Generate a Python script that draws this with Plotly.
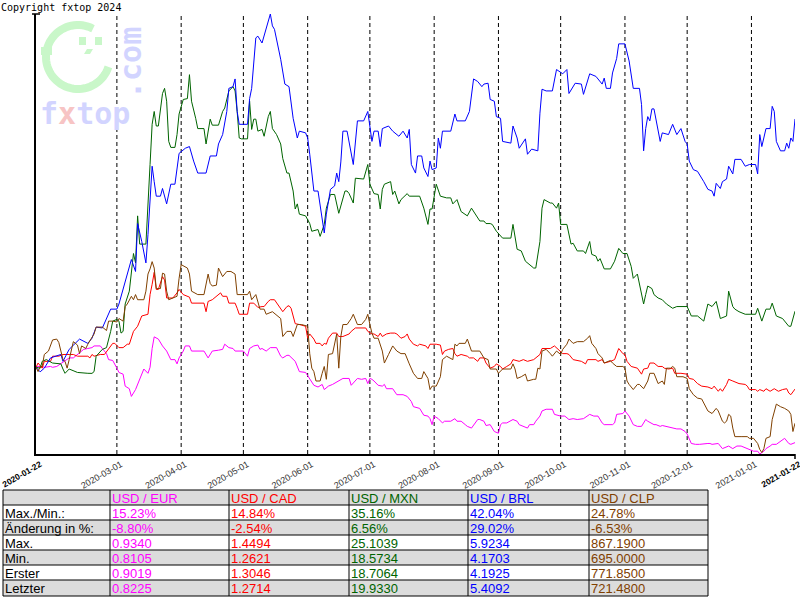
import datetime as dt
import math
import plotly.graph_objects as go

# ---------------- data ----------------
START = dt.date(2020, 1, 22)
END = dt.date(2021, 1, 22)
MONTH_STARTS = ["2020-03-01", "2020-04-01", "2020-05-01", "2020-06-01", "2020-07-01",
                "2020-08-01", "2020-09-01", "2020-10-01", "2020-11-01", "2020-12-01",
                "2021-01-01"]

PAIRS = ["USD / EUR", "USD / CAD", "USD / MXN", "USD / BRL", "USD / CLP"]
COLORS = ["#ff00ff", "#ff0000", "#006400", "#0000ff", "#804000"]

# (days since 2020-01-22, index with first value = 100)
EUR = [(0,100.0),(1,100.1),(3,100.1),(4,100.0),(7,100.1),(8,100.0),(10,100.1),(12,100.4),(14,100.7),(16,101.1),(18,101.1),(20,101.5),(23,102.1),(25,102.2),(27,102.3),(28,102.5),(31,102.5),(32,102.2),(34,101.6),(35,100.9),(37,100.8),(39,99.9),(40,99.4),(42,99.2),(43,97.8),(45,97.5),(46,96.6),(48,97.4),(49,98.0),(51,99.3),(52,99.8),(54,99.3),(55,100.0),(56,102.2),(57,103.56),(59,103.3),(61,102.5),(63,101.9),(65,100.9),(67,100.9),(68,100.4),(69,101.1),(71,101.9),(72,102.5),(74,102.5),(75,101.9),(81,101.9),(83,101.1),(84,101.5),(85,101.9),(88,102.0),(90,102.1),(91,102.7),(93,102.3),(95,102.2),(96,101.9),(100,101.9),(102,101.3),(103,102.2),(105,102.5),(107,102.6),(108,102.1),(109,102.2),(111,101.9),(113,102.3),(116,102.3),(118,101.3),(119,101.1),(121,101.4),(122,101.4),(125,100.7),(127,99.5),(130,99.4),(132,98.7),(134,97.9),(136,97.7),(138,98.0),(139,97.4),(141,97.8),(143,98.0),(146,98.4),(148,98.7),(151,98.7),(152,97.9),(155,98.7),(157,98.6),(159,98.7),(160,98.1),(161,98.7),(162,98.6),(163,98.4),(165,97.9),(167,97.8),(168,98.0),(169,97.5),(172,97.5),(174,96.8),(177,96.8),(179,96.6),(181,96.0),(182,95.4),(184,95.3),(185,95.2),(187,94.4),(189,94.3),(190,94.0),(191,93.3),(192,94.3),(194,94.0),(196,93.5),(197,93.7),(200,93.7),(201,93.9),(202,94.0),(203,93.7),(205,93.7),(207,93.3),(208,93.1),(210,92.9),(213,93.9),(214,93.9),(216,93.7),(217,93.2),(219,93.3),(221,92.5),(223,92.3),(224,93.3),(225,93.5),(227,93.5),(229,93.8),(230,93.9),(232,93.7),(233,93.3),(237,92.9),(238,93.3),(240,93.3),(241,93.7),(243,94.3),(244,94.9),(246,95.1),(249,95.1),(250,94.5),(253,94.3),(255,94.3),(257,93.9),(259,94.0),(261,93.9),(264,94.0),(266,94.3),(267,94.5),(269,94.3),(271,94.3),(273,93.5),(274,93.3),(278,93.3),(279,93.5),(280,94.5),(283,94.6),(284,94.9),(285,94.6),(286,94.3),(288,93.3),(290,93.1),(292,93.1),(294,93.9),(295,93.7),(298,93.3),(299,93.3),(301,93.1),(302,93.2),(306,93.0),(308,92.9),(309,92.8),(311,92.8),(313,92.5),(314,92.2),(316,91.1),(318,91.0),(320,91.0),(324,91.1),(325,91.1),(326,91.0),(329,91.1),(331,90.5),(332,90.6),(334,90.8),(336,90.5),(338,90.8),(340,90.8),(343,90.5),(344,90.4),(346,90.2),(348,90.2),(349,89.87),(351,90.2),(352,90.5),(354,90.8),(355,91.0),(357,91.0),(359,91.3),(360,91.5),(361,91.7),(363,91.1),(364,91.0),(366,91.2)]

CAD = [(0,100.0),(1,100.5),(3,99.9),(4,100.7),(7,100.7),(8,101.3),(11,101.3),(13,101.5),(16,101.5),(18,101.5),(20,101.3),(25,101.3),(26,101.1),(27,101.5),(28,101.3),(31,101.5),(33,101.5),(35,102.2),(37,102.8),(38,102.8),(40,102.3),(42,102.3),(44,102.7),(45,102.7),(47,104.2),(49,104.8),(51,106.0),(54,106.2),(55,108.5),(56,109.7),(57,111.1),(58,109.1),(59,109.1),(61,110.6),(62,110.2),(63,108.1),(66,108.1),(68,108.7),(69,109.1),(71,108.5),(74,108.2),(75,107.5),(79,107.5),(81,107.5),(82,106.5),(83,107.7),(85,107.9),(89,108.7),(90,108.3),(92,108.3),(93,107.5),(96,107.5),(97,106.9),(98,106.2),(102,106.2),(103,107.5),(105,107.5),(107,107.0),(109,107.1),(110,107.1),(112,107.7),(113,107.9),(115,107.9),(118,106.8),(119,106.5),(121,107.1),(122,107.2),(123,106.9),(125,105.1),(127,105.0),(130,104.8),(131,103.4),(132,103.9),(134,103.3),(135,102.8),(137,102.8),(138,102.5),(139,102.8),(140,102.7),(141,103.4),(143,104.0),(145,104.0),(146,103.6),(148,103.6),(151,103.9),(152,104.2),(154,104.6),(159,104.6),(160,104.2),(162,103.9),(163,103.9),(165,103.6),(166,104.0),(167,103.6),(169,103.9),(171,104.0),(173,104.0),(174,103.9),(176,103.4),(178,103.6),(179,103.9),(180,103.3),(182,102.7),(184,102.5),(185,102.7),(188,102.5),(189,102.2),(190,102.7),(193,102.7),(195,102.6),(196,101.5),(197,101.9),(199,102.1),(201,102.2),(202,101.6),(203,101.3),(205,101.5),(208,101.3),(209,101.1),(211,101.1),(213,100.7),(214,101.1),(216,101.1),(217,100.5),(219,99.9),(221,100.1),(222,100.4),(224,100.1),(225,99.8),(227,100.1),(229,100.4),(230,100.9),(233,100.7),(235,100.9),(237,100.7),(240,100.9),(241,101.1),(243,101.5),(244,102.2),(248,102.2),(250,102.5),(252,102.1),(254,101.6),(256,101.6),(257,101.5),(259,100.9),(261,100.8),(263,100.7),(265,100.4),(266,100.9),(270,100.9),(271,100.7),(273,100.9),(274,100.5),(277,100.7),(279,100.9),(281,102.2),(283,101.6),(284,101.5),(285,100.7),(287,100.1),(290,99.9),(292,99.2),(293,99.8),(295,99.9),(296,100.5),(298,100.5),(300,100.1),(302,100.1),(303,99.9),(305,99.8),(307,99.9),(308,99.3),(311,99.3),(314,99.2),(315,98.7),(317,98.6),(319,98.1),(321,97.8),(324,97.7),(326,97.5),(327,97.8),(328,97.5),(329,97.2),(330,97.5),(331,97.2),(333,98.0),(334,98.6),(336,98.4),(339,98.1),(342,98.0),(343,97.8),(344,97.4),(347,97.4),(348,97.2),(349,97.4),(351,97.2),(352,97.5),(354,97.2),(355,97.4),(356,97.5),(358,97.2),(360,97.4),(362,97.5),(363,97.0),(364,96.8),(366,97.46)]

MXN = [(0,100.0),(2,99.9),(3,100.7),(5,100.9),(8,100.5),(12,100.4),(13,99.8),(14,99.3),(16,99.8),(20,99.4),(25,99.3),(27,99.29),(28,99.5),(29,101.3),(32,102.1),(34,102.3),(36,104.2),(37,105.4),(39,105.6),(40,105.4),(41,104.0),(42,104.2),(43,107.4),(45,108.9),(47,113.3),(48,112.2),(49,117.7),(50,114.4),(53,114.4),(54,119.8),(55,123.7),(56,128.4),(57,129.9),(58,128.2),(59,128.2),(61,132.0),(62,132.6),(63,131.1),(64,126.4),(65,125.7),(67,125.7),(68,127.2),(69,129.6),(71,131.3),(73,131.4),(74,134.2),(75,131.1),(77,129.1),(78,127.9),(81,127.9),(82,126.1),(84,129.0),(85,128.3),(88,128.3),(90,129.9),(91,130.3),(93,132.3),(95,132.8),(96,132.3),(97,129.9),(98,126.8),(99,126.7),(102,126.7),(103,131.1),(104,127.8),(105,129.0),(106,129.0),(107,127.6),(109,127.8),(110,127.0),(112,129.3),(113,129.9),(114,127.9),(116,127.2),(118,126.1),(119,124.4),(121,122.7),(122,122.7),(124,120.6),(125,118.5),(126,119.1),(127,117.9),(130,117.7),(132,116.8),(133,115.9),(136,116.1),(137,115.3),(139,116.7),(140,118.6),(142,120.2),(144,120.2),(146,118.0),(148,119.8),(149,120.6),(150,120.6),(151,120.3),(153,119.2),(154,122.1),(158,122.0),(160,123.7),(161,121.4),(163,120.3),(165,120.2),(166,118.5),(167,120.8),(168,121.4),(171,121.7),(172,120.2),(173,120.6),(175,119.1),(176,119.6),(179,120.3),(180,120.0),(185,120.0),(187,118.6),(189,116.7),(190,118.5),(191,118.5),(193,121.4),(195,120.0),(198,119.8),(200,119.8),(201,119.1),(203,119.6),(205,118.2),(208,117.7),(210,118.6),(212,117.9),(214,117.1),(216,117.1),(217,116.8),(219,116.8),(220,116.7),(222,115.9),(225,115.1),(229,115.1),(230,116.7),(232,113.8),(234,113.6),(236,112.4),(238,112.0),(240,111.6),(241,111.6),(243,114.7),(244,118.6),(245,119.6),(248,119.2),(249,119.2),(251,118.6),(252,119.2),(253,116.7),(256,116.7),(258,114.4),(259,114.5),(261,113.6),(264,113.6),(265,113.3),(267,114.7),(268,113.2),(270,113.0),(271,112.4),(272,112.7),(274,111.5),(277,111.5),(279,112.4),(281,113.9),(283,113.3),(285,113.3),(287,111.8),(288,110.4),(290,110.9),(292,108.5),(293,107.4),(294,108.5),(295,109.5),(297,109.2),(298,108.5),(300,108.1),(302,107.9),(304,107.4),(307,106.9),(309,107.1),(314,107.1),(316,106.0),(319,106.0),(322,105.4),(324,107.4),(326,107.1),(328,107.7),(330,105.7),(333,106.0),(334,108.9),(336,107.1),(337,106.8),(339,106.5),(342,106.2),(347,106.2),(348,106.9),(350,105.4),(352,106.8),(354,106.8),(355,107.5),(357,106.0),(360,105.7),(363,104.8),(364,104.8),(365,105.7),(366,106.56)]

BRL = [(0,100.0),(2,99.47),(4,99.9),(7,101.1),(12,101.5),(13,100.7),(16,102.1),(20,103.0),(21,103.3),(25,102.8),(27,103.4),(29,104.7),(32,104.6),(36,106.8),(39,106.8),(40,107.4),(44,110.9),(46,112.6),(48,111.2),(49,116.8),(51,114.7),(53,112.2),(54,115.5),(55,119.8),(56,123.5),(57,121.7),(58,120.0),(60,120.0),(61,120.9),(63,119.1),(65,121.4),(67,121.4),(68,123.3),(69,125.0),(72,125.6),(74,125.8),(76,124.1),(78,122.7),(82,122.7),(84,124.7),(87,124.7),(88,126.1),(90,127.2),(92,129.9),(93,132.6),(95,132.8),(96,133.7),(97,129.9),(98,128.4),(102,128.4),(103,131.4),(104,132.6),(106,138.5),(107,138.7),(109,137.9),(111,139.6),(113,141.29),(114,139.9),(115,139.5),(118,136.0),(120,133.1),(122,132.8),(124,129.1),(126,126.8),(127,127.6),(130,127.4),(131,126.8),(132,124.9),(134,120.6),(136,120.6),(138,117.1),(139,115.7),(140,117.9),(142,120.8),(144,121.2),(145,122.7),(146,121.7),(147,124.0),(148,127.6),(150,127.6),(153,123.7),(155,128.8),(158,128.8),(160,129.9),(162,126.4),(163,127.6),(165,127.6),(166,125.8),(167,127.9),(170,128.2),(172,127.6),(175,127.0),(177,127.6),(179,126.8),(180,127.8),(181,123.7),(183,122.7),(184,124.7),(186,124.7),(187,123.3),(189,122.3),(190,124.1),(191,123.1),(193,123.3),(194,126.8),(195,125.6),(196,127.6),(200,127.6),(202,129.6),(203,128.8),(207,128.8),(209,129.9),(211,133.7),(213,133.4),(215,132.8),(216,133.1),(218,133.2),(219,131.3),(221,131.1),(222,129.3),(224,129.1),(225,126.4),(229,126.2),(230,128.2),(232,126.8),(233,125.6),(236,126.7),(237,124.9),(239,125.5),(242,125.3),(243,129.7),(244,132.5),(246,132.3),(249,132.3),(251,134.8),(254,134.3),(256,134.8),(257,132.0),(260,133.2),(263,133.1),(264,131.9),(267,134.3),(270,134.0),(273,133.1),(274,133.8),(275,132.6),(277,132.6),(278,134.4),(280,136.1),(281,137.8),(284,137.8),(286,135.8),(288,132.6),(291,132.6),(292,130.7),(293,125.3),(294,127.9),(295,129.3),(296,128.8),(297,130.2),(298,130.2),(299,128.8),(301,126.4),(302,127.4),(305,127.2),(307,128.4),(309,127.2),(311,127.9),(313,126.4),(314,126.1),(315,124.1),(317,123.1),(319,122.9),(322,121.7),(324,120.8),(326,120.6),(327,120.0),(328,121.5),(330,120.9),(331,121.7),(333,122.0),(334,123.5),(336,122.6),(337,124.3),(340,124.3),(342,123.5),(344,123.7),(347,123.7),(348,122.6),(349,127.2),(350,125.8),(352,127.9),(354,127.9),(355,130.5),(356,129.9),(357,126.4),(359,125.3),(361,125.3),(362,126.2),(363,125.6),(364,126.8),(365,126.4),(366,129.02)]

CLP = [(0,100.0),(1,99.5),(2,100.1),(3,100.1),(4,101.5),(6,101.9),(8,103.2),(10,103.3),(11,102.9),(12,101.9),(13,100.9),(14,100.7),(15,99.9),(16,100.9),(18,103.0),(20,102.6),(21,101.6),(22,102.5),(24,102.2),(25,102.7),(27,103.4),(28,103.9),(29,104.7),(32,104.7),(34,104.3),(35,105.4),(37,105.4),(39,105.3),(40,105.7),(42,105.4),(43,107.1),(44,107.4),(46,108.3),(47,107.9),(48,108.5),(49,107.9),(52,107.9),(53,108.9),(54,110.9),(55,111.5),(56,112.35),(57,111.6),(58,109.2),(60,109.2),(61,111.0),(62,110.9),(63,108.9),(64,107.9),(66,108.1),(68,108.3),(69,110.4),(70,112.0),(73,111.6),(74,110.9),(75,108.9),(78,108.5),(81,108.5),(83,110.9),(84,109.8),(85,109.5),(87,109.6),(88,111.6),(90,110.6),(92,111.2),(94,111.2),(96,110.9),(97,108.5),(102,108.5),(103,108.9),(104,107.9),(106,108.5),(107,107.5),(108,106.8),(110,106.8),(111,106.2),(114,106.5),(116,106.1),(118,105.7),(119,103.6),(121,104.2),(123,104.2),(124,103.6),(126,105.0),(128,105.0),(131,104.8),(132,101.6),(133,99.9),(134,99.5),(135,98.4),(137,98.4),(138,99.3),(139,100.1),(140,98.6),(141,101.5),(143,101.6),(145,103.9),(146,99.9),(147,103.6),(148,105.0),(150,105.0),(152,105.7),(153,106.2),(155,105.0),(157,105.0),(159,105.6),(160,106.2),(161,105.0),(162,104.0),(163,103.4),(165,103.4),(167,101.9),(168,100.5),(170,101.5),(172,102.5),(174,101.9),(176,101.6),(178,101.6),(179,100.9),(180,100.4),(182,99.3),(184,98.7),(186,98.7),(187,99.5),(189,98.7),(190,97.4),(191,97.8),(193,97.8),(195,98.9),(196,100.9),(198,101.3),(201,100.9),(202,102.7),(203,102.5),(204,102.8),(207,102.8),(208,103.3),(209,102.7),(210,101.9),(214,101.9),(216,101.1),(218,100.9),(219,99.8),(222,99.8),(223,99.3),(225,99.8),(229,99.8),(230,100.4),(231,99.8),(232,98.7),(234,98.9),(236,99.2),(237,98.4),(240,98.6),(241,98.6),(242,99.9),(243,99.8),(244,101.9),(246,102.1),(248,101.6),(249,101.3),(251,101.9),(253,101.5),(254,102.1),(256,102.7),(257,103.3),(259,102.8),(261,103.0),(264,103.0),(266,103.4),(267,103.7),(268,102.8),(270,102.2),(271,101.6),(273,101.1),(274,100.5),(277,100.8),(278,100.5),(280,100.1),(283,100.1),(284,99.9),(285,98.4),(286,98.0),(288,97.4),(290,98.0),(291,98.0),(293,97.5),(295,98.4),(296,99.3),(298,99.3),(300,98.1),(302,98.4),(303,98.0),(304,99.9),(306,99.9),(307,100.1),(308,99.9),(309,98.9),(312,98.9),(314,98.7),(315,97.5),(317,96.8),(319,96.4),(321,96.3),(323,95.4),(324,94.9),(326,94.6),(328,95.2),(329,94.9),(331,93.7),(332,93.5),(333,93.7),(334,94.5),(335,94.3),(336,92.9),(337,91.9),(340,91.9),(343,91.9),(344,91.7),(346,91.7),(348,91.1),(349,90.4),(350,90.04),(351,90.5),(352,91.7),(354,91.9),(355,93.9),(357,95.7),(359,95.4),(361,95.2),(363,94.9),(364,94.5),(365,92.5),(366,93.47)]

SERIES = [EUR, CAD, MXN, BRL, CLP]

ROW_LABELS = ["Max./Min.:", "Änderung in %:", "Max.", "Min.", "Erster", "Letzter"]
MAXMIN_PCT = ["15.23%", "14.84%", "35.16%", "42.04%", "24.78%"]
CHANGE_PCT = ["-8.80%", "-2.54%", "6.56%", "29.02%", "-6.53%"]
MAX_VAL = ["0.9340", "1.4494", "25.1039", "5.9234", "867.1900"]
MIN_VAL = ["0.8105", "1.2621", "18.5734", "4.1703", "695.0000"]
FIRST_VAL = ["0.9019", "1.3046", "18.7064", "4.1925", "771.8500"]
LAST_VAL = ["0.8225", "1.2714", "19.9330", "5.4092", "721.4800"]
TABLE_ROWS = [MAXMIN_PCT, CHANGE_PCT, MAX_VAL, MIN_VAL, FIRST_VAL, LAST_VAL]

# ---------------- layout geometry (pixels) ----------------
W, H = 800, 600
ML, MR, MT, MB = 36, 5, 14, 146
PW = W - ML - MR
PH = H - MT - MB


def px(x):
    return (x - ML) / PW


def py(y):
    return (H - MB - y) / PH


fig = go.Figure()
for name, color, data in zip(PAIRS, COLORS, SERIES):
    xs = [START + dt.timedelta(days=d) for d, _ in data]
    ys = [v for _, v in data]
    fig.add_trace(go.Scatter(x=xs, y=ys, mode="lines", name=name,
                             line=dict(color=color, width=1), hoverinfo="skip"))

all_vals = [v for s in SERIES for _, v in s]
ymin, ymax = min(all_vals), max(all_vals)

shapes = []
annotations = []

# dashed month lines
for m in MONTH_STARTS:
    shapes.append(dict(type="line", xref="x", yref="paper", x0=m, x1=m, y0=0, y1=1,
                       line=dict(color="black", width=1, dash="4px,3px"), layer="below"))

# small ticks at axis ends
shapes.append(dict(type="line", xref="paper", yref="paper", x0=px(32), x1=px(40),
                   y0=1, y1=1, line=dict(color="black", width=1.5)))
shapes.append(dict(type="line", xref="paper", yref="paper", x0=1, x1=1,
                   y0=py(454), y1=py(459), line=dict(color="black", width=1.5)))

# ---------------- watermark ----------------
GREEN_WM = "#c9f7c9"
BLUE_WM = "#d2d4ff"
cx, cy, r = 78, 57, 32
pts = []
for k in range(0, 57):
    a = math.radians(62 + k * 5)
    pts.append((cx + r * math.cos(a), cy - r * math.sin(a)))
path = "M " + " L ".join(f"{px(x):.5f},{py(y):.5f}" for x, y in pts)
shapes.append(dict(type="path", xref="paper", yref="paper", path=path,
                   line=dict(color=GREEN_WM, width=8), layer="below"))
for (x0, y0, x1, y1) in [(41, 47, 52, 55), (79, 37, 86, 45), (95, 37, 102, 45)]:
    shapes.append(dict(type="rect", xref="paper", yref="paper", x0=px(x0), x1=px(x1),
                       y0=py(y1), y1=py(y0), fillcolor=GREEN_WM, line=dict(width=0),
                       layer="below"))
shapes.append(dict(type="path", xref="paper", yref="paper",
                   path=f"M {px(84)},{py(54)} L {px(87)},{py(49)} L {px(93)},{py(49)} L {px(90)},{py(54)} Z",
                   fillcolor=GREEN_WM, line=dict(width=0), layer="below"))

annotations.append(dict(text="<b>.com</b>", x=px(131), y=py(63), xref="paper", yref="paper",
                        xanchor="center", yanchor="middle", showarrow=False, textangle=-90,
                        font=dict(family="DejaVu Sans Mono", size=30, color=BLUE_WM)))
annotations.append(dict(text="<b>f<span style='color:#f7c4c4'>x</span>top</b>",
                        x=px(38), y=py(94), xref="paper", yref="paper",
                        xanchor="left", yanchor="top", showarrow=False,
                        font=dict(family="DejaVu Sans Mono", size=30, color=BLUE_WM)))
annotations.append(dict(text="Copyright fxtop 2024", x=px(0), y=py(7), xref="paper", yref="paper",
                        xanchor="left", yanchor="middle", showarrow=False, borderpad=0,
                        font=dict(family="DejaVu Sans Mono", size=10, color="black")))

# ---------------- table ----------------
COL_EDGES = [3, 110, 229, 349, 468, 589, 708]
ROW_EDGES = [490, 505, 520, 535, 550, 565, 580, 596]
GRAY = "#dcdcdc"
for i in range(7):
    if i % 2 == 0:
        shapes.append(dict(type="rect", xref="paper", yref="paper",
                           x0=px(COL_EDGES[0]), x1=px(COL_EDGES[-1]),
                           y0=py(ROW_EDGES[i + 1]), y1=py(ROW_EDGES[i]),
                           fillcolor=GRAY, line=dict(width=0), layer="below"))
for yv in ROW_EDGES:
    shapes.append(dict(type="line", xref="paper", yref="paper",
                       x0=px(COL_EDGES[0]), x1=px(COL_EDGES[-1]), y0=py(yv), y1=py(yv),
                       line=dict(color="black", width=1)))
for xv in COL_EDGES:
    shapes.append(dict(type="line", xref="paper", yref="paper",
                       x0=px(xv), x1=px(xv), y0=py(ROW_EDGES[0]), y1=py(ROW_EDGES[-1]),
                       line=dict(color="black", width=1)))

TFONT = "Liberation Sans"


def cell_text(text, col, row, color):
    annotations.append(dict(text=text, x=px(COL_EDGES[col] + 0.5),
                            y=py((ROW_EDGES[row] + ROW_EDGES[row + 1]) / 2 + 0.5),
                            xref="paper", yref="paper", xanchor="left", yanchor="middle",
                            showarrow=False, borderpad=0,
                            font=dict(family=TFONT, size=13, color=color)))


for j, (name, color) in enumerate(zip(PAIRS, COLORS)):
    cell_text(name, j + 1, 0, color)
for i, (label, vals) in enumerate(zip(ROW_LABELS, TABLE_ROWS)):
    cell_text(label, 0, i + 1, "black")
    for j, (v, color) in enumerate(zip(vals, COLORS)):
        cell_text(v, j + 1, i + 1, color)

# ---------------- axes ----------------
tickvals = [START.isoformat()] + MONTH_STARTS + [END.isoformat()]
END_STYLE = "color:black;font-size:8.5px"
ticktext = ([f"<b><span style='{END_STYLE}'>{START.isoformat()}</span></b>"] + MONTH_STARTS
            + [f"<b><span style='{END_STYLE}'>{END.isoformat()}</span></b>"])

fig.update_xaxes(type="date", range=[START.isoformat(), END.isoformat()],
                 showline=True, linecolor="black", linewidth=1.5, mirror=False,
                 showgrid=False, zeroline=False, ticks="",
                 tickvals=tickvals, ticktext=ticktext, tickangle=-30,
                 ticklabeloverflow="allow", ticklabelshift=4, automargin=False,
                 tickfont=dict(family="Liberation Sans", size=9, color="#333333"))
fig.update_yaxes(range=[ymin, ymax], showline=True, linecolor="black", linewidth=1.5,
                 showgrid=False, zeroline=False, showticklabels=False, ticks="",
                 automargin=False)

fig.update_layout(width=W, height=H, margin=dict(l=ML, r=MR, t=MT, b=MB),
                  paper_bgcolor="white", plot_bgcolor="white", showlegend=False,
                  shapes=shapes, annotations=annotations)

fig.write_html("out.html", config={"displayModeBar": False},
               post_script="document.body.style.margin='0';document.body.style.overflow='hidden';")
